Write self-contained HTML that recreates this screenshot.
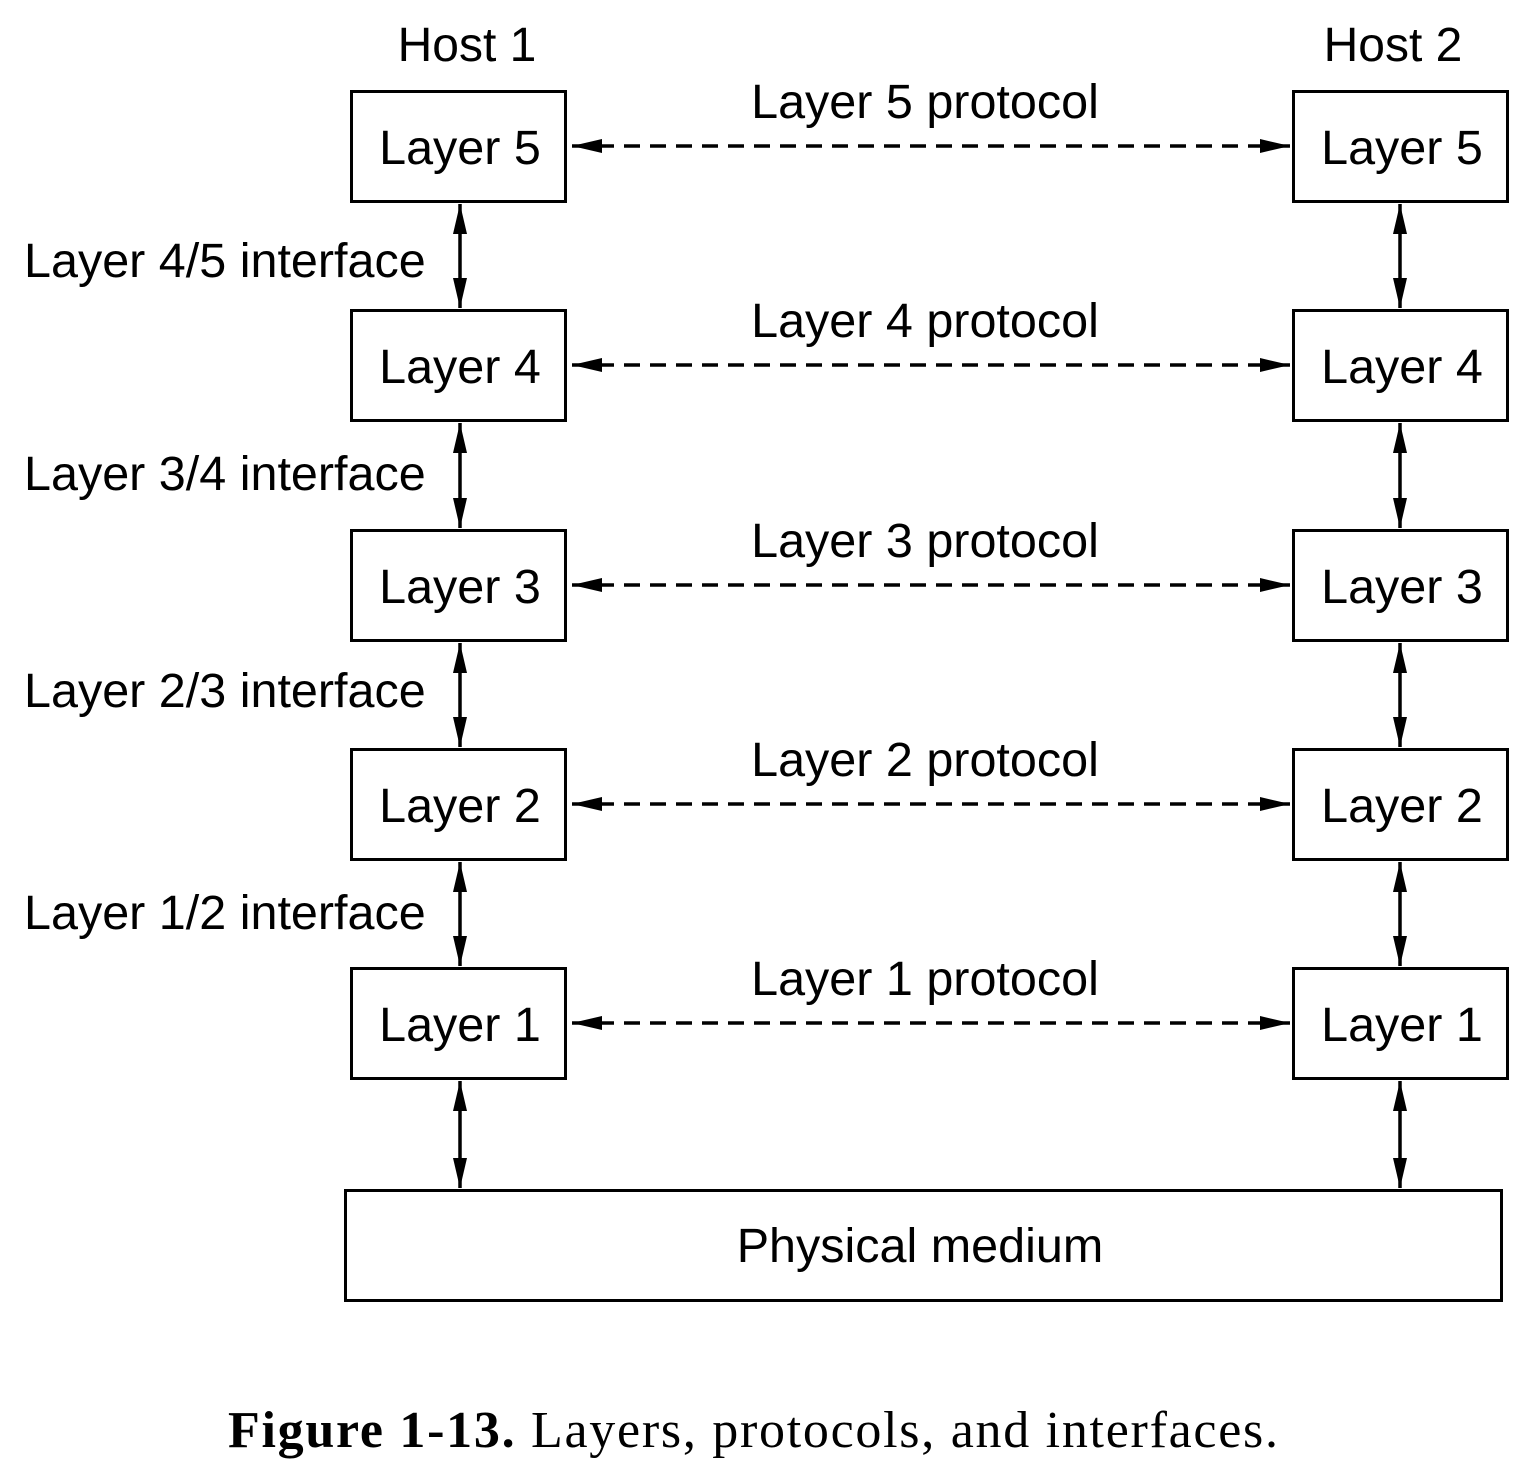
<!DOCTYPE html>
<html>
<head>
<meta charset="utf-8">
<style>
html,body{margin:0;padding:0;background:#fff;}
svg{display:block;}
text{font-family:"Liberation Sans",sans-serif;fill:#000;}
</style>
</head>
<body>
<svg id="diagram" width="1534" height="1474" viewBox="0 0 1534 1474" xmlns="http://www.w3.org/2000/svg">
<defs>
<marker id="ah" viewBox="0 0 30 14" refX="30" refY="7" markerWidth="30" markerHeight="14" markerUnits="userSpaceOnUse" orient="auto-start-reverse">
<path d="M0,0 L30,7 L0,14 Z" fill="#000"/>
</marker>
</defs>
<text x="467" y="61" font-size="48" text-anchor="middle">Host 1</text>
<text x="1393" y="61" font-size="48" text-anchor="middle">Host 2</text>
<rect x="345.5" y="1190.5" width="1156" height="110" fill="none" stroke="#000" stroke-width="3"/>
<text x="920" y="1262" font-size="48.5" text-anchor="middle">Physical medium</text>
<text x="228" y="1447" font-size="52" textLength="1050" lengthAdjust="spacing" style="font-family:'Liberation Serif',serif"><tspan font-weight="bold">Figure 1-13.</tspan>  Layers, protocols, and interfaces.</text>
<g id="g"></g>
</svg>
<script>
const layers = [5, 4, 3, 2, 1];
const interfaces = ["4/5", "3/4", "2/3", "1/2"];
const NS = "http://www.w3.org/2000/svg";
const g = document.getElementById("g");
const top0 = 91, step = 219.25, bh = 110;
function mk(tag, attrs){ const e=document.createElementNS(NS,tag); for(const k in attrs) e.setAttribute(k,attrs[k]); g.appendChild(e); return e; }
layers.forEach((n,i)=>{
  const y = Math.round(top0 + i*step);
  [[351,"host-1"],[1293,"host-2"]].forEach(([x,h])=>{
    const r = mk("rect",{x:x+0.5,y:y+0.5,width:214,height:bh,fill:"none",stroke:"#000","stroke-width":3});
    
    
    const t = mk("text",{x:x+109,y:y+73,"font-size":48.5,"text-anchor":"middle"});
    t.textContent = "Layer " + n;
    
    
    const vx = h==="host-1" ? 460 : 1400;
    const yb = y+bh+3, ye = (i<layers.length-1) ? Math.round(top0+(i+1)*step)-2 : 1188;
    const v = mk("line",{x1:vx,y1:yb,x2:vx,y2:ye,stroke:"#000","stroke-width":3.5,"marker-end":"url(#ah)","marker-start":"url(#ah)"});
    
    
  });
  const cy = y + 55;
  const d = mk("line",{x1:572,y1:cy,x2:1290,y2:cy,stroke:"#000","stroke-width":3.5,"stroke-dasharray":"16 10","marker-end":"url(#ah)","marker-start":"url(#ah)"});
  
  
  const pt = mk("text",{x:925,y:y+27,"font-size":48.5,"text-anchor":"middle"});
  pt.textContent = "Layer " + n + " protocol";
  
  
});
interfaces.forEach((s,i)=>{
  const y = [277,490,707,929][i];
  const t = mk("text",{x:24,y:y,"font-size":48.5});
  t.textContent = "Layer " + s + " interface";
  
  
});
</script>
</body>
</html>
